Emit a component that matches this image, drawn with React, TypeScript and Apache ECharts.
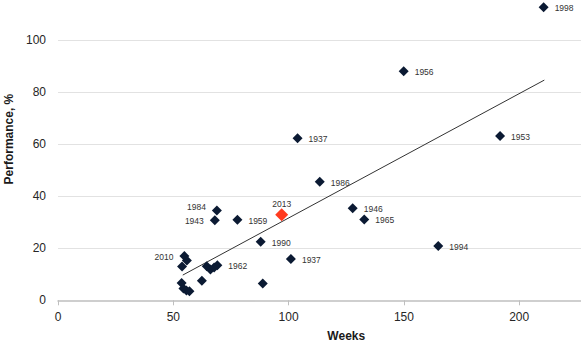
import React, { useEffect, useRef } from "react";
import * as echarts from "echarts";

// Historical rallies: duration (weeks) vs performance (%)
const weeks = [54.8, 55.9, 53.8, 53.6, 54.4, 55.7, 57.0, 62.4, 64.5, 66.1, 67.7, 69.1, 88.8, 87.9, 101.0, 68.9, 68.0, 77.8, 113.5, 103.9, 127.8, 132.8, 164.9, 149.9, 191.7, 210.6];
const perf = [17.0, 15.3, 13.0, 6.7, 4.5, 3.8, 3.5, 7.5, 13.1, 11.8, 12.6, 13.5, 6.5, 22.5, 15.9, 34.5, 30.8, 31.0, 45.6, 62.3, 35.4, 31.1, 20.9, 88.1, 63.2, 112.7];
const years = ["2010", "", "", "", "", "", "", "", "", "", "", "1962", "", "1990", "1937", "1984", "1943", "1959", "1986", "1937", "1946", "1965", "1994", "1956", "1953", "1998"];

const currentWeeks = [97.0];
const currentPerf = [32.9];
const currentYear = ["2013"];

// Linear trend line end points
const trendWeeks = [54.1, 210.9];
const trendPerf = [9.7, 84.7];

const xTicks = [0, 50, 100, 150, 200];
const yTicks = [0, 20, 40, 60, 80, 100];
const X_MAX = 250;
const Y_MAX = 124;

const leftLabelYears = new Set(["2010", "1984", "1943"]);

const FONT = '"Liberation Sans", Arial, sans-serif';

export default function App() {
  const ref = useRef<HTMLDivElement>(null);

  useEffect(() => {
    document.body.style.margin = "0";
    if (!ref.current) return;
    const chart = echarts.init(ref.current, undefined, { renderer: "svg" });

    const mainData = weeks.map((w, i) => {
      const yr = years[i];
      const isLeft = leftLabelYears.has(yr);
      return {
        value: [w, perf[i]],
        name: yr,
        label: {
          show: yr !== "",
          position: isLeft ? "left" : "right",
          distance: 6,
          offset: yr === "1984" ? [0, -4] : [0, 1],
        },
      };
    });

    const curData = currentWeeks.map((w, i) => ({
      value: [w, currentPerf[i]],
      name: currentYear[i],
    }));

    chart.setOption({
      animation: false,
      textStyle: { fontFamily: FONT },
      grid: {
        left: 58,
        top: -22.1,
        width: 576.5,
        height: 322.4,
        containLabel: false,
        outerBoundsMode: "none",
      },
      xAxis: {
        type: "value",
        min: xTicks[0],
        max: X_MAX,
        interval: 50,
        name: "Weeks",
        nameLocation: "middle",
        nameGap: 30,
        nameTextStyle: { fontFamily: FONT, fontWeight: "bold", fontSize: 12, color: "#1a1a1a" },
        axisLine: { show: true, lineStyle: { color: "#bfbfbf", width: 1.5 } },
        axisTick: { show: true, length: 5, lineStyle: { color: "#bfbfbf" } },
        axisLabel: {
          fontFamily: FONT,
          fontSize: 12,
          color: "#262626",
          margin: 11,
          formatter: (v: number) => (xTicks.includes(v) ? String(v) : ""),
        },
        splitLine: { show: false },
      },
      yAxis: {
        type: "value",
        min: yTicks[0],
        max: Y_MAX,
        interval: 20,
        name: "Performance, %",
        nameLocation: "middle",
        nameGap: 43,
        nameTextStyle: { fontFamily: FONT, fontWeight: "bold", fontSize: 12, color: "#1a1a1a" },
        axisLine: { show: false },
        axisTick: { show: false },
        axisLabel: {
          fontFamily: FONT,
          fontSize: 12,
          color: "#262626",
          margin: 12,
          formatter: (v: number) => (yTicks.includes(v) ? String(v) : ""),
        },
        splitLine: { show: true, showMinLine: false, lineStyle: { color: "#e2e2e2", width: 1 } },
      },
      series: [
        {
          type: "line",
          data: trendWeeks.map((w, i) => [w, trendPerf[i]]),
          symbol: "none",
          lineStyle: { color: "#333333", width: 1 },
          z: 1,
        },
        {
          type: "scatter",
          symbol: "diamond",
          symbolSize: 10,
          data: mainData,
          itemStyle: { color: "#0b1a33", opacity: 1 },
          label: {
            show: true,
            formatter: (p: any) => p.name,
            fontFamily: FONT,
            fontSize: 8.5,
            color: "#333333",
          },
          z: 3,
        },
        {
          type: "scatter",
          symbol: "diamond",
          symbolSize: 13,
          data: curData,
          itemStyle: { color: "#ff3b1f", opacity: 1 },
          label: {
            show: true,
            position: "top",
            distance: 0,
            formatter: (p: any) => p.name,
            fontFamily: FONT,
            fontSize: 8.5,
            color: "#333333",
          },
          z: 4,
        },
      ],
    });

    return () => chart.dispose();
  }, []);

  return <div ref={ref} style={{ width: 581, height: 347 }} />;
}
